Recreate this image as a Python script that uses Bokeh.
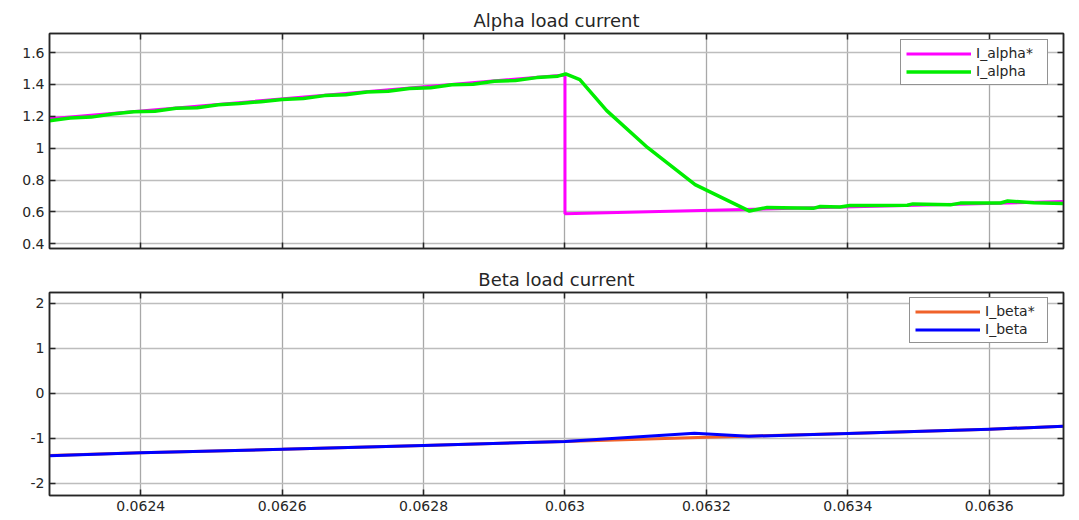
from bokeh.plotting import figure
from bokeh.models import Range1d, FixedTicker, LinearAxis, Legend, LegendItem
from bokeh.layouts import column
from bokeh.embed import file_html
from bokeh.resources import INLINE

# ---------------- data ----------------
x_limits = [0.062271, 0.063705]
x_ticks = [0.0624, 0.0626, 0.0628, 0.0630, 0.0632, 0.0634, 0.0636]
x_tick_labels = ["0.0624", "0.0626", "0.0628", "0.063", "0.0632", "0.0634", "0.0636"]

alpha_limits = [0.37, 1.72]
alpha_ticks = [0.4, 0.6, 0.8, 1.0, 1.2, 1.4, 1.6]
alpha_tick_labels = ["0.4", "0.6", "0.8", "1", "1.2", "1.4", "1.6"]

beta_limits = [-2.27, 2.24]
beta_ticks = [-2, -1, 0, 1, 2]
beta_tick_labels = ["-2", "-1", "0", "1", "2"]

# I_alpha* (reference)
t_alpha_ref = [0.062271, 0.063000, 0.063000, 0.063705]
i_alpha_ref = [1.185, 1.460, 0.588, 0.665]

# I_alpha (measured)
t_alpha = [0.062271, 0.06230, 0.06233, 0.06236, 0.06239, 0.06242, 0.06245, 0.06248,
           0.06251, 0.06254, 0.06257, 0.06260, 0.06263, 0.06266, 0.06269, 0.06272,
           0.06275, 0.06278, 0.06281, 0.06284, 0.06287, 0.06290, 0.06293, 0.06296,
           0.06299, 0.063001, 0.063021, 0.063059, 0.063117, 0.063184, 0.063261,
           0.063286, 0.063351, 0.063361, 0.063389, 0.063403, 0.063484, 0.063492,
           0.063545, 0.063559, 0.063616, 0.063626, 0.063663, 0.063705]
i_alpha = [1.172, 1.190, 1.195, 1.214, 1.228, 1.232, 1.250, 1.254,
           1.272, 1.280, 1.292, 1.306, 1.312, 1.330, 1.335, 1.352,
           1.358, 1.375, 1.380, 1.398, 1.402, 1.420, 1.425, 1.443,
           1.452, 1.466, 1.430, 1.236, 1.003, 0.771, 0.605,
           0.628, 0.622, 0.634, 0.630, 0.640, 0.642, 0.650,
           0.644, 0.655, 0.656, 0.668, 0.657, 0.653]

# I_beta* (reference)
t_beta_ref = [0.062271, 0.06240, 0.06260, 0.06280, 0.06300, 0.06320, 0.06340, 0.06360, 0.063705]
i_beta_ref = [-1.38, -1.32, -1.245, -1.16, -1.07, -0.975, -0.89, -0.80, -0.73]

# I_beta (measured)
t_beta = [0.062271, 0.06240, 0.06260, 0.06280, 0.06300, 0.063183, 0.063260, 0.06340, 0.06360, 0.063705]
i_beta = [-1.385, -1.322, -1.245, -1.16, -1.07, -0.885, -0.955, -0.89, -0.80, -0.73]

FONT = "DejaVu Sans"
AXIS_COLOR = "#262626"


def make_fig(title, ylim, yticks, ylabels, show_xlabels, border_top, border_bottom):
    p = figure(width=1079, height=260,
               x_range=Range1d(*x_limits), y_range=Range1d(*ylim),
               output_backend="svg", toolbar_location=None,
               min_border_left=49, min_border_right=16,
               min_border_top=border_top, min_border_bottom=border_bottom)
    p.title.text = title
    p.title.align = "center"
    p.title.text_font = FONT
    p.title.text_font_size = "18px"
    p.title.text_font_style = "normal"
    p.title.text_color = AXIS_COLOR
    p.title.standoff = 5

    p.outline_line_color = AXIS_COLOR
    p.outline_line_width = 1.5
    p.background_fill_color = "white"
    p.border_fill_color = "white"

    xt = FixedTicker(ticks=x_ticks)
    yt = FixedTicker(ticks=yticks)
    xover = dict(zip(x_ticks, x_tick_labels))
    yover = dict(zip(yticks, ylabels))

    ax_right = LinearAxis()
    ax_top = LinearAxis()
    p.add_layout(ax_right, "right")
    p.add_layout(ax_top, "above")

    for ax in p.xaxis:
        ax.ticker = xt
        ax.major_label_overrides = xover
    for ax in p.yaxis:
        ax.ticker = yt
        ax.major_label_overrides = yover

    for ax in p.axis:
        ax.axis_line_color = AXIS_COLOR
        ax.axis_line_width = 1.5
        ax.major_tick_line_color = AXIS_COLOR
        ax.major_tick_line_width = 1.5
        ax.major_tick_in = 6
        ax.major_tick_out = 0
        ax.minor_tick_in = 0
        ax.minor_tick_out = 0
        ax.major_label_text_font = FONT
        ax.major_label_text_font_size = "14px"
        ax.major_label_text_color = AXIS_COLOR
        ax.major_label_standoff = 5

    hidden = [ax_right, ax_top]
    if not show_xlabels:
        hidden.append(p.below[0])
    for ax in hidden:
        ax.major_label_text_color = None
        ax.major_label_standoff = 0

    p.xgrid.ticker = xt
    p.ygrid.ticker = yt
    p.xgrid.grid_line_color = "#a8a8a8"
    p.xgrid.grid_line_width = 1.3
    p.ygrid.grid_line_color = "#bdbdbd"
    p.ygrid.grid_line_width = 1.3
    return p


# ---------------- top: alpha ----------------
p1 = make_fig("Alpha load current", alpha_limits, alpha_ticks, alpha_tick_labels, False, 33, 12)
r1 = p1.line(t_alpha_ref, i_alpha_ref, line_color="#ff00ff", line_width=3)
r2 = p1.line(t_alpha, i_alpha, line_color="#00ee00", line_width=3.5, line_join="round")
leg1 = Legend(items=[LegendItem(label="I_alpha*", renderers=[r1]),
                     LegendItem(label="I_alpha", renderers=[r2])],
              location=(851, 163))
p1.add_layout(leg1)

# ---------------- bottom: beta ----------------
p2 = make_fig("Beta load current", beta_limits, beta_ticks, beta_tick_labels, True, 32, 25)
r3 = p2.line(t_beta_ref, i_beta_ref, line_color="#f0622a", line_width=3)
r4 = p2.line(t_beta, i_beta, line_color="#0000ff", line_width=3, line_join="round")
leg2 = Legend(items=[LegendItem(label="I_beta*", renderers=[r3]),
                     LegendItem(label="I_beta", renderers=[r4])],
              location=(860, 152))
p2.add_layout(leg2)

for leg, lw in ((leg1, 66), (leg2, 57)):
    leg.border_line_color = AXIS_COLOR
    leg.border_line_width = 1.2
    leg.background_fill_color = "white"
    leg.background_fill_alpha = 1
    leg.label_text_font = FONT
    leg.label_text_font_size = "14px"
    leg.label_text_color = AXIS_COLOR
    leg.glyph_width = 65
    leg.glyph_height = 15
    leg.label_height = 15
    leg.label_width = lw
    leg.label_standoff = 5
    leg.spacing = 2
    leg.padding = 5
    leg.margin = 0

layout = column(p1, p2)
open("out.html", "w").write(file_html(layout, INLINE))
